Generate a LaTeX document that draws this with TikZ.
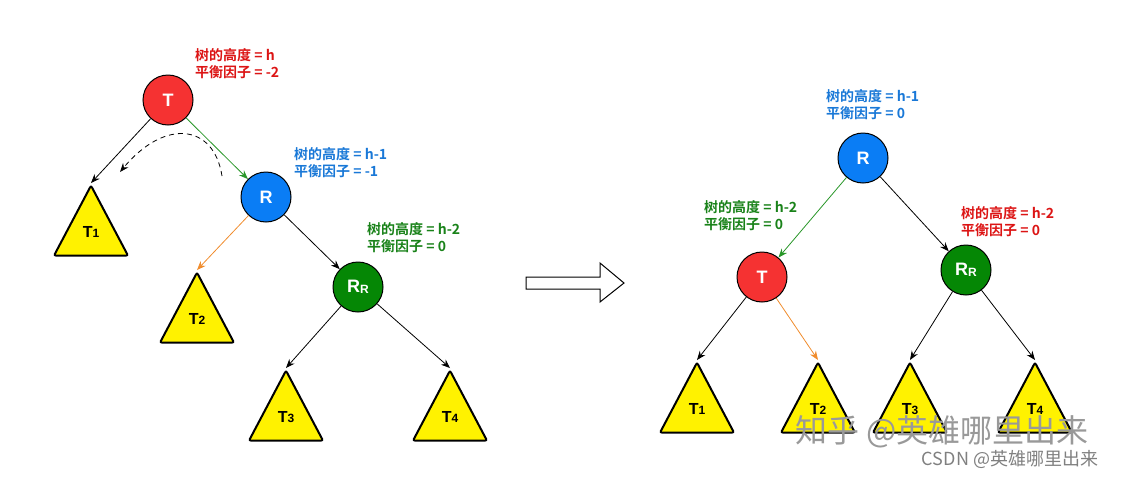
\documentclass[tikz,border=0pt]{standalone}
\usepackage{fontspec}
\setmainfont{Liberation Sans}
\newfontfamily\cjk{Noto Sans CJK SC}[BoldFont={Noto Sans CJK SC Bold}]
\usetikzlibrary{arrows.meta,shapes.geometric}
\definecolor{nodered}{RGB}{245,50,50}
\definecolor{nodeblue}{RGB}{10,125,245}
\definecolor{nodegreen}{RGB}{5,135,5}
\definecolor{txtred}{RGB}{220,20,20}
\definecolor{txtblue}{RGB}{25,120,215}
\definecolor{txtgreen}{RGB}{25,130,25}
\definecolor{edgeorange}{RGB}{240,140,45}
\definecolor{edgegreen}{RGB}{40,150,40}
\newcommand{\subidx}[1]{\raisebox{-0.5pt}{\fontsize{12}{12}\selectfont #1}}
\tikzset{
  treenode/.style={circle, draw=black, line width=1pt, minimum size=50pt, inner sep=0pt,
    text=white, font=\bfseries\fontsize{18}{18}\selectfont},
  subtree/.style={isosceles triangle, shape border rotate=90, isosceles triangle stretches,
    minimum width=74pt, minimum height=70pt, inner sep=0pt, draw=black, line width=2pt,
    rounded corners=2pt, fill=yellow, anchor=apex},
  treename/.style={inner sep=0pt, font=\bfseries\fontsize{16}{16}\selectfont},
  info/.style={anchor=north west, align=left, inner sep=0pt,
    font=\cjk\bfseries\fontsize{14}{17.5}\selectfont},
  edge/.style={line width=0.8pt, -{Stealth[length=9pt,width=7pt,inset=3pt]}},
  mark text/.style={text=black!40, inner sep=0pt}
}
\begin{document}
\begin{tikzpicture}[x=1pt,y=-1pt]
\useasboundingbox (0,0) rectangle (1122,477);
% before the rotation
\node[treenode, fill=nodered] (lT) at (168,100) {T};
\node[treenode, fill=nodeblue] (lR) at (266,197) {R};
\node[treenode, fill=nodegreen] (lRR) at (358,287) {R\subidx{R}};
\node[subtree] (lt1) at (91,183) {};
\node[subtree] (lt2) at (197,270) {};
\node[subtree] (lt3) at (286,368) {};
\node[subtree] (lt4) at (450,368) {};
\node[treename] at ([yshift=-49pt]lt1.apex) {T\subidx{1}};
\node[treename] at ([yshift=-49pt]lt2.apex) {T\subidx{2}};
\node[treename] at ([yshift=-49pt]lt3.apex) {T\subidx{3}};
\node[treename] at ([yshift=-49pt]lt4.apex) {T\subidx{4}};
\node[info, text=txtred] (lTinfo) at (195,48) {树的高度 = h\\平衡因子 = -2};
\node[info, text=txtblue] (lRinfo) at (294,147) {树的高度 = h-1\\平衡因子 = -1};
\node[info, text=txtgreen] (lRRinfo) at (367,222) {树的高度 = h-2\\平衡因子 = 0};
\draw[edge] (lT) -- (lt1.apex);
\draw[edge, edgegreen] (lT) -- (lR);
\draw[edge, edgeorange] (lR) -- (lt2.apex);
\draw[edge] (lR) -- (lRR);
\draw[edge] (lRR) -- (lt3.apex);
\draw[edge] (lRR) -- (lt4.apex);
\coordinate (swingA) at (222,176);
\coordinate (swingB) at (120,172);
\draw[edge, dash pattern=on 5pt off 4pt] (swingA) .. controls (214,124) and (165,118) .. (swingB);
% hollow arrow
\draw[line width=1pt, fill=white, line join=miter] (526,277) -- (600,277) -- (600,263) -- (624,283)
  -- (600,302) -- (600,289) -- (526,289) -- cycle;
% after the rotation
\node[treenode, fill=nodeblue] (rR) at (863,158) {R};
\node[treenode, fill=nodered] (rT) at (762,277) {T};
\node[treenode, fill=nodegreen] (rRR) at (966,270) {R\subidx{R}};
\node[subtree] (rt1) at (697,360) {};
\node[subtree] (rt2) at (818,360) {};
\node[subtree] (rt3) at (910,360) {};
\node[subtree] (rt4) at (1035,360) {};
\node[treename] at ([yshift=-49pt]rt1.apex) {T\subidx{1}};
\node[treename] at ([yshift=-49pt]rt2.apex) {T\subidx{2}};
\node[treename] at ([yshift=-49pt]rt3.apex) {T\subidx{3}};
\node[treename] at ([yshift=-49pt]rt4.apex) {T\subidx{4}};
\node[info, text=txtblue] (rRinfo) at (826,89) {树的高度 = h-1\\平衡因子 = 0};
\node[info, text=txtgreen] (rTinfo) at (704,200) {树的高度 = h-2\\平衡因子 = 0};
\node[info, text=txtred] (rRRinfo) at (961,206) {树的高度 = h-2\\平衡因子 = 0};
\draw[edge, edgegreen] (rR) -- (rT);
\draw[edge] (rR) -- (rRR);
\draw[edge] (rT) -- (rt1.apex);
\draw[edge, edgeorange] (rT) -- (rt2.apex);
\draw[edge] (rRR) -- (rt3.apex);
\draw[edge] (rRR) -- (rt4.apex);
% watermarks
\node[mark text, font=\cjk\fontsize{32}{32}\selectfont] (zhihu) at (942,432) {知乎 @英雄哪里出来};
\node[mark text, text=black!50, font=\cjk\fontsize{18}{18}\selectfont] (csdn) at (1010,459) {CSDN @英雄哪里出来};
\end{tikzpicture}
\end{document}
